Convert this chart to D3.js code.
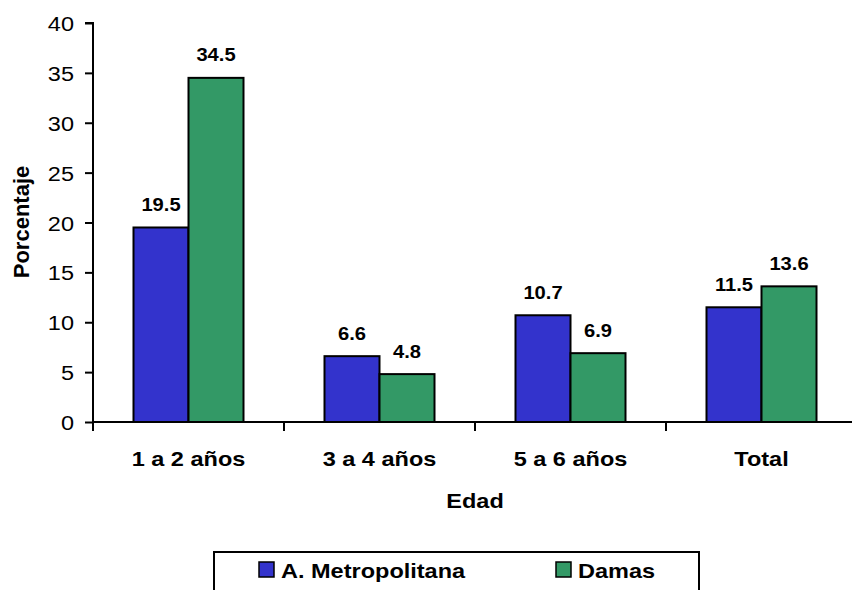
<!DOCTYPE html>
<html><head><meta charset="utf-8">
<script src="https://cdn.jsdelivr.net/npm/d3@7"></script>
<style>body{margin:0;background:#fff}svg{display:block;font-family:"Liberation Sans",Arial,sans-serif}</style>
</head><body>
<svg id="c" width="852" height="590"></svg>
<script>
const categories = ["1 a 2 años", "3 a 4 años", "5 a 6 años", "Total"];
const seriesNames = ["A. Metropolitana", "Damas"];
const metropolitana = [19.5, 6.6, 10.7, 11.5];
const damas = [34.5, 4.8, 6.9, 13.6];
const yTicks = [0, 5, 10, 15, 20, 25, 30, 35, 40];
const colors = ["#3333CC", "#339966"];

(function () {
const svg = d3.select("#c");
const pl = 93, pr = 857, pt = 23, pb = 422;
const SX = 1.12;
const x = d3.scaleBand().domain(categories).range([pl, pr]).paddingInner(0).paddingOuter(0);
const y = d3.scaleLinear().domain([0, 40]).range([pb, pt]);
const barW = 55;
const data = [metropolitana, damas];

function stext(parent, tx, ty, str, size, bold, anchor) {
  const g = parent.append("g").attr("transform", `translate(${tx},${ty}) scale(${SX},1)`);
  g.append("text").attr("text-anchor", anchor || "middle")
    .attr("font-size", size).attr("font-weight", bold ? "bold" : "normal")
    .attr("fill", "#000").text(str);
  return g;
}

data.forEach((vals, si) => {
  svg.append("g").selectAll("rect").data(vals).join("rect")
    .attr("x", (d, i) => x(categories[i]) + x.bandwidth() / 2 - barW + si * barW)
    .attr("y", d => y(d))
    .attr("width", barW)
    .attr("height", d => y(0) - y(d))
    .attr("fill", colors[si])
    .attr("stroke", "#000")
    .attr("stroke-width", 2);
  const lg = svg.append("g");
  vals.forEach((d, i) => {
    stext(lg, x(categories[i]) + x.bandwidth() / 2 - barW / 2 + si * barW, y(d) - 16.5, d.toFixed(1), 18, true);
  });
});

const ya = svg.append("g").attr("transform", `translate(${pl},0)`)
  .call(d3.axisLeft(y).tickValues(yTicks).tickSize(8).tickPadding(8).tickFormat(d3.format("d")));
ya.select(".domain").attr("stroke", "#000").attr("stroke-width", 2).attr("d", `M-8,${pt}H0V${pb+1}`);
ya.selectAll(".tick line").attr("stroke", "#000").attr("stroke-width", 2);
ya.selectAll(".tick text").attr("font-size", 21).attr("font-family", "Liberation Sans, Arial, sans-serif")
  .attr("fill", "#000").attr("x", 0).attr("dy", "0.36em")
  .attr("transform", `translate(-19,0) scale(${SX},1)`);

const xa = svg.append("g").attr("transform", `translate(0,${pb})`);
xa.append("line").attr("x1", pl - 1).attr("x2", pr).attr("y1", 0).attr("y2", 0).attr("stroke", "#000").attr("stroke-width", 2);
const bounds = categories.map(c => x(c)).concat([pr]);
xa.selectAll("line.t").data(bounds).join("line").attr("class", "t")
  .attr("x1", d => d).attr("x2", d => d).attr("y1", 0).attr("y2", 9)
  .attr("stroke", "#000").attr("stroke-width", 2);
categories.forEach(c => stext(xa, x(c) + x.bandwidth() / 2, 44, c, 21, true));

stext(svg, 475, 508, "Edad", 21, true);
svg.append("text").attr("transform", "translate(29,222) rotate(-90)").attr("text-anchor", "middle")
  .attr("font-size", 22).attr("font-weight", "bold").text("Porcentaje");

const lg = svg.append("g");
lg.append("rect").attr("x", 214).attr("y", 552).attr("width", 485).attr("height", 50)
  .attr("fill", "#fff").attr("stroke", "#000").attr("stroke-width", 2);
const lx = [259, 556];
seriesNames.forEach((n, i) => {
  lg.append("rect").attr("x", lx[i]).attr("y", 562).attr("width", 15).attr("height", 15)
    .attr("fill", colors[i]).attr("stroke", "#000").attr("stroke-width", 1.5);
  stext(lg, lx[i] + 22, 578, n, 21, true, "start");
});
})();
</script>
</body></html>
